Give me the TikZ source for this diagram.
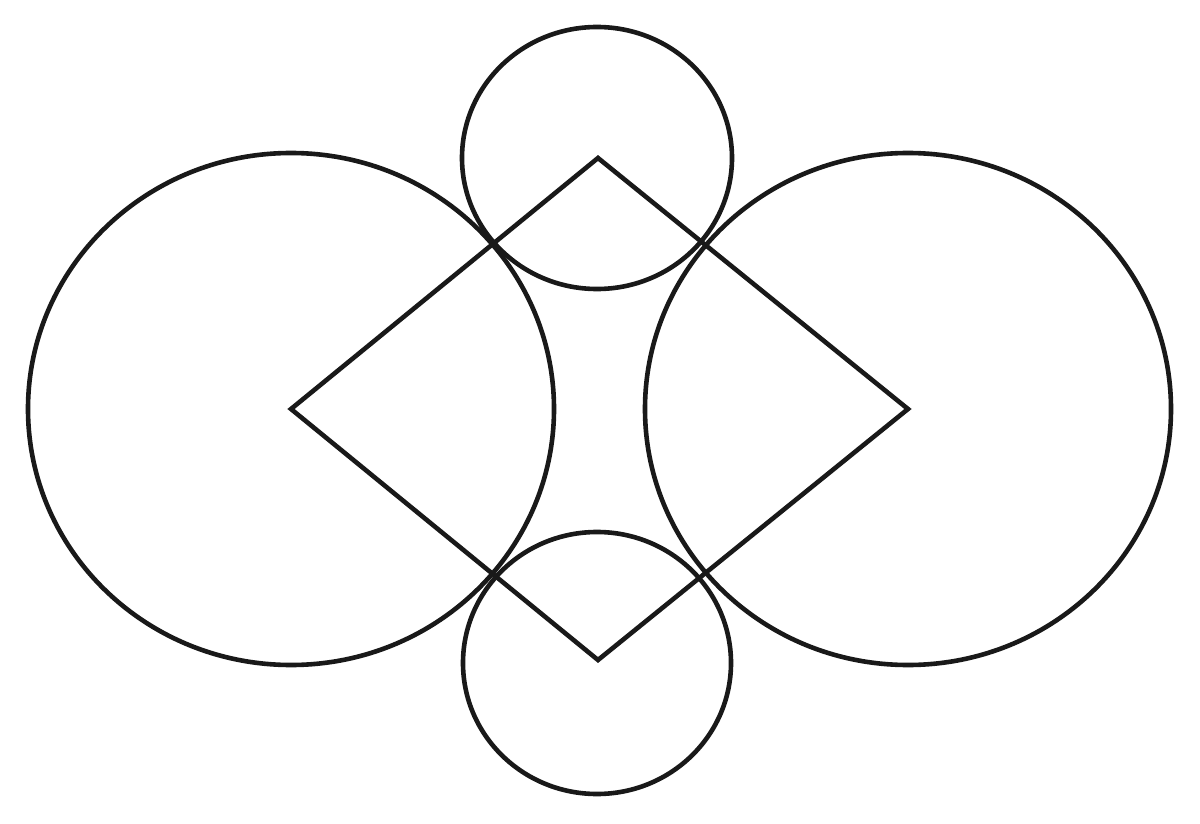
\documentclass[tikz,border=0pt]{standalone}
\begin{document}
\begin{tikzpicture}[x=1pt,y=-1pt,shape line/.style={line width=4.6pt,draw=black!90}]
\useasboundingbox (0,0) rectangle (1200,824);
\fill[white] (0,0) rectangle (1200,824);
\coordinate (L) at (291,409);
\coordinate (T) at (598,158);
\coordinate (R) at (908,409);
\coordinate (B) at (598,660);
\draw[shape line] (L) ellipse [x radius=263, y radius=256];
\draw[shape line] (R) ellipse [x radius=263, y radius=256];
\draw[shape line] (597,158) ellipse [x radius=135, y radius=131];
\draw[shape line] (597,663) ellipse [x radius=134, y radius=131];
\draw[shape line,line join=miter] (L) -- (T) -- (R) -- (B) -- cycle;
\end{tikzpicture}
\end{document}
